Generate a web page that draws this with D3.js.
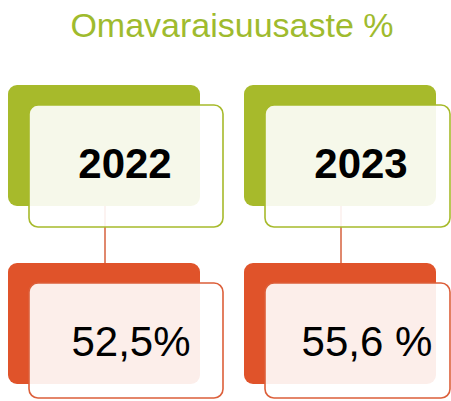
<!DOCTYPE html>
<html><head><meta charset="utf-8">
<script src="https://cdn.jsdelivr.net/npm/d3@7/dist/d3.min.js"></script>
<style>html,body{margin:0;padding:0;background:#fff;overflow:hidden}</style>
</head><body>
<script>
const title = "Omavaraisuusaste %";
const years = ["2022", "2023"];
const values = [52.5, 55.6];
const valueLabels = ["52,5%", "55,6 %"];

const W = 451, H = 401;
const green = "#a7ba2b", red = "#e0532a";
const svg = d3.select("body").append("svg").attr("width", W).attr("height", H)
  .style("font-family", "'Liberation Sans', Arial, sans-serif");

svg.append("text").attr("x", 232).attr("y", 37).attr("text-anchor", "middle")
  .attr("font-size", 34).attr("fill", "#9fbb2e").text(title);

const x = d3.scaleBand().domain(years).range([8, 480]).paddingInner(0);
const data = years.map((y, i) => ({year: y, value: values[i], label: valueLabels[i]}));

const g = svg.selectAll("g.col").data(data).enter().append("g").attr("class", "col")
  .attr("transform", d => `translate(${x(d.year)},0)`);

// connector
g.append("line").attr("x1", 97).attr("x2", 97).attr("y1", 206).attr("y2", 264)
  .attr("stroke", "#d6603c").attr("stroke-width", 1.5);

function card(sel, top, color, stroke, text, bold, frontH) {
  sel.append("rect").attr("x", 0).attr("y", top).attr("width", 192).attr("height", 121)
    .attr("rx", 9).attr("fill", color);
  sel.append("rect").attr("x", 21).attr("y", top + 20)
    .attr("width", (d, i) => i === 0 ? 194 : 185).attr("height", frontH)
    .attr("rx", 9).attr("fill", "#fff").attr("fill-opacity", 0.9)
    .attr("stroke", stroke).attr("stroke-width", 1.6);
  sel.append("text").attr("x", bold ? 117 : 123).attr("y", top + 93)
    .attr("text-anchor", "middle").attr("font-size", 42)
    .attr("font-weight", bold ? "bold" : "normal").attr("fill", "#000")
    .text(text);
}
card(g, 85, green, green, d => d.year, true, 122);
card(g, 263, red, "#dc5f3a", d => d.label, false, 115);
</script>
</body></html>
